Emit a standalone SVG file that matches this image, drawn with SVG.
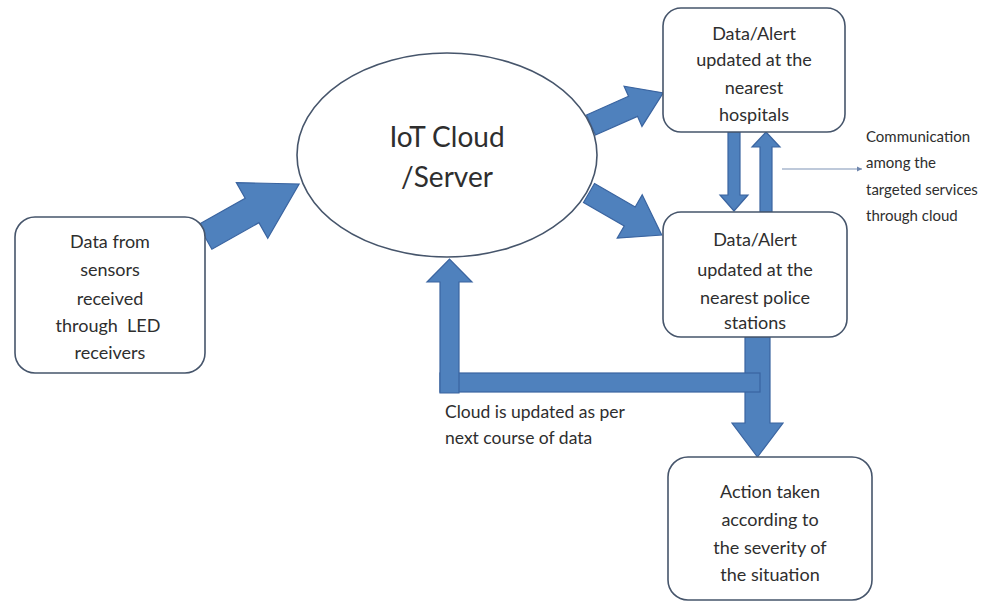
<svg xmlns="http://www.w3.org/2000/svg" width="994" height="604" viewBox="0 0 994 604">
<style>
.box{fill:#fff;stroke:#46556b;stroke-width:1.6}
.blk{fill:#4f81bd;stroke:#3a64a0;stroke-width:1.2;stroke-linejoin:miter}
.t{font-family:Lato,"Liberation Sans",sans-serif;font-size:18px;fill:#2e2e2e;text-anchor:middle}
.tl{font-family:Lato,"Liberation Sans",sans-serif;fill:#2e2e2e}
</style>
<defs>
<marker id="sm" markerWidth="6" markerHeight="6" refX="5" refY="3" orient="auto" markerUnits="userSpaceOnUse">
<path d="M0,0.5 L5,3 L0,5.5 Z" fill="#6f86ad"/>
</marker>
</defs>
<rect width="994" height="604" fill="#fff"/>
<g id="connectors">
<path class="blk" transform="translate(205,237) rotate(-29.4)" d="M0,-14 L54,-14 L54,-32 L108,0 L54,32 L54,14 L0,14 Z"/>
<path class="blk" transform="translate(591,125) rotate(-24)" d="M0,-11 L46,-11 L46,-22 L79,0 L46,22 L46,11 L0,11 Z"/>
<path class="blk" transform="translate(589,193) rotate(30)" d="M0,-11 L47,-11 L47,-25 L84,0 L47,25 L47,11 L0,11 Z"/>
<polygon class="blk" points="728,132 740,132 740,195 748,195 734,211 720,195 728,195"/>
<polygon class="blk" points="760,212 772,212 772,147 780,147 766,132 752,147 760,147"/>
<polygon class="blk" points="745,337 770,337 770,423 783,423 757.5,457 732,423 745,423"/>
<rect class="blk" x="440" y="373" width="320" height="19"/>
<polygon class="blk" points="440,393 459,393 459,282 472,282 449.5,259 427,282 440,282"/>
<line x1="782" y1="169" x2="862" y2="169" stroke="#7f93b5" stroke-width="1.2" marker-end="url(#sm)"/>
</g>
<g id="cloud">
<ellipse class="box" cx="447" cy="155" rx="150" ry="102"/>
<text class="t" x="447" y="147" style="font-size:28px">IoT Cloud</text>
<text class="t" x="447" y="187" style="font-size:28px">/Server</text>
</g>
<g id="sensors">
<rect class="box" x="15" y="217" width="190" height="156" rx="20"/>
<text class="t" x="110" y="248">Data from</text>
<text class="t" x="110" y="276">sensors</text>
<text class="t" x="110" y="305">received</text>
<text class="t" x="108" y="332">through&#160; LED</text>
<text class="t" x="110" y="359">receivers</text>
</g>
<g id="hospitals">
<rect class="box" x="663" y="8" width="182" height="124" rx="18"/>
<text class="t" x="754" y="40">Data/Alert</text>
<text class="t" x="754" y="66">updated at the</text>
<text class="t" x="754" y="94">nearest</text>
<text class="t" x="754" y="121">hospitals</text>
</g>
<g id="police">
<rect class="box" x="663" y="212" width="184" height="125" rx="18"/>
<text class="t" x="755" y="246">Data/Alert</text>
<text class="t" x="755" y="276">updated at the</text>
<text class="t" x="755" y="304">nearest police</text>
<text class="t" x="755" y="329">stations</text>
</g>
<g id="action">
<rect class="box" x="668" y="457" width="204" height="143" rx="20"/>
<text class="t" x="770" y="498">Action taken</text>
<text class="t" x="770" y="526">according to</text>
<text class="t" x="770" y="554">the severity of</text>
<text class="t" x="770" y="581">the situation</text>
</g>
<g id="comm-label">
<text class="tl" x="866" y="142" font-size="15">Communication</text>
<text class="tl" x="866" y="168" font-size="15">among the</text>
<text class="tl" x="866" y="195" font-size="15">targeted services</text>
<text class="tl" x="866" y="221" font-size="15">through cloud</text>
</g>
<g id="loop-label">
<text class="tl" x="445" y="418" font-size="17.5">Cloud is updated as per</text>
<text class="tl" x="445" y="444" font-size="17.5">next course of data</text>
</g>
</svg>
